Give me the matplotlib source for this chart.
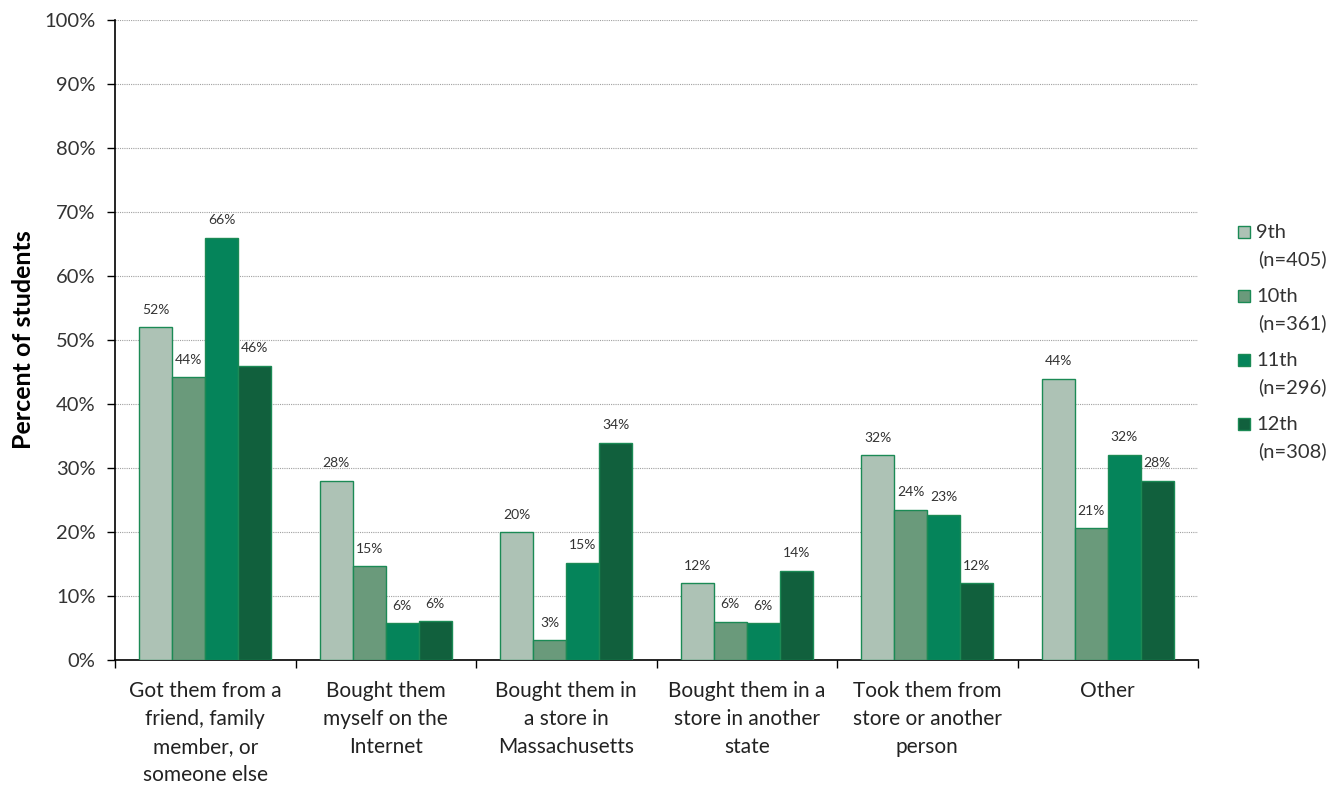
import numpy as np
import matplotlib.pyplot as plt
from matplotlib.patches import Rectangle
from matplotlib.ticker import FixedLocator, NullFormatter

plt.rcParams['font.family'] = ['Lato', 'DejaVu Sans']

categories = ["Got them from a\nfriend, family\nmember, or\nsomeone else",
              "Bought them\nmyself on the\nInternet",
              "Bought them in\na store in\nMassachusetts",
              "Bought them in a\nstore in another\nstate",
              "Took them from\nstore or another\nperson",
              "Other"]
grades = ["9th", "10th", "11th", "12th"]
sizes = ["(n=405)", "(n=361)", "(n=296)", "(n=308)"]
g9 = [52, 28, 20, 12, 32, 44]
g10 = [44.2, 14.7, 3.1, 6.0, 23.5, 20.6]
g11 = [66, 5.8, 15.2, 5.8, 22.7, 32.1]
g12 = [46, 6.1, 34, 14, 12, 28]
labels9 = ["52%", "28%", "20%", "12%", "32%", "44%"]
labels10 = ["44%", "15%", "3%", "6%", "24%", "21%"]
labels11 = ["66%", "6%", "15%", "6%", "23%", "32%"]
labels12 = ["46%", "6%", "34%", "14%", "12%", "28%"]

colors = ["#adc2b5", "#6a9a7b", "#05845a", "#11603d"]
edge = "#1b8a55"

fig = plt.figure(figsize=(13.31, 7.85), dpi=100)
ax = fig.add_axes([0.0864, 0.159, 0.8137, 0.8155])

x = np.arange(len(categories))
w = 0.183
series = [g9, g10, g11, g12]
lbls = [labels9, labels10, labels11, labels12]
for i, (vals, lb) in enumerate(zip(series, lbls)):
    pos = x + (i - 1.5) * w
    bars = ax.bar(pos, vals, w, color=colors[i], edgecolor=edge, linewidth=1.0, zorder=3)
    for b, v, t in zip(bars, vals, lb):
        ax.text(b.get_x() + b.get_width() / 2, v + 1.8, t, ha='center', va='bottom',
                fontsize=10, color='#333333')

ax.set_xlim(-0.5, len(categories) - 0.5)
ax.set_ylim(0, 100)
ax.set_yticks(np.arange(0, 101, 10))
ax.set_yticklabels([f"{v}%" for v in range(0, 101, 10)], fontsize=14.5, color='#333333')
ax.yaxis.grid(True, linestyle=(0, (1, 1)), color='#a0a0a0', linewidth=0.8, zorder=0)
ax.set_ylabel("Percent of students", fontsize=18, fontweight='bold', labelpad=7)

ax.set_xticks(x)
ax.set_xticklabels(categories, fontsize=15, color='#222222', va='top', linespacing=1.5)
ax.tick_params(axis='x', length=0, pad=15)
ax.xaxis.set_minor_locator(FixedLocator(np.arange(-0.5, len(categories), 1)))
ax.xaxis.set_minor_formatter(NullFormatter())
ax.tick_params(axis='x', which='minor', length=6, width=1, direction='out')
ax.tick_params(axis='y', length=6, width=1, direction='out', pad=8)

for s in ['top', 'right']:
    ax.spines[s].set_visible(False)
ax.spines['left'].set_linewidth(1.2)
ax.spines['bottom'].set_linewidth(1.2)

# legend drawn by hand so the square sits next to the first line
W, H = fig.get_size_inches() * fig.dpi
for i, (g, n) in enumerate(zip(grades, sizes)):
    yc = 232 + i * 64
    fig.patches.append(Rectangle((1238 / W, 1 - (yc + 6) / H), 12 / W, 12 / H,
                                 transform=fig.transFigure, facecolor=colors[i],
                                 edgecolor=edge, linewidth=1.0))
    fig.text(1256 / W, 1 - yc / H, g, fontsize=14.5, color='#333333', va='center')
    fig.text(1258 / W, 1 - (yc + 27) / H, n, fontsize=14.5, color='#333333', va='center')

fig.savefig("out.png", dpi=100)
